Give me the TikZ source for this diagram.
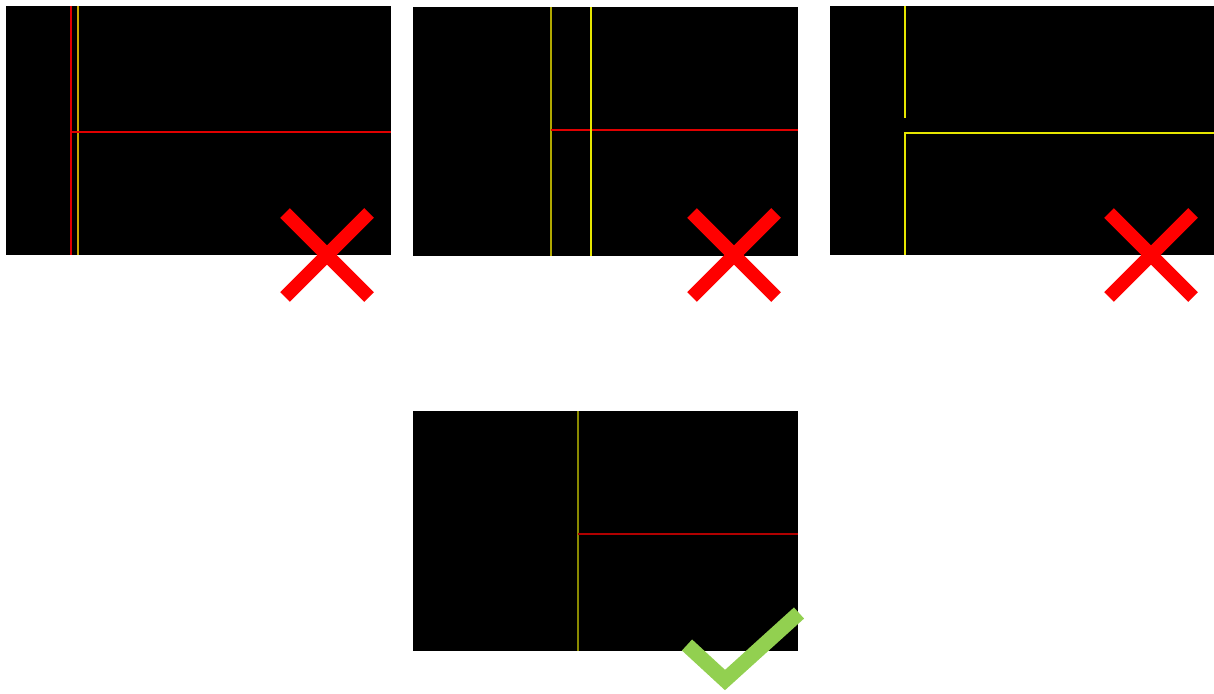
\documentclass[tikz,border=0pt]{standalone}
\begin{document}
\begin{tikzpicture}[x=1pt,y=-1pt,
  panel/.style={fill=black},
  seg/.style={line width=2pt},
  cross/.style={draw=red,line width=13.5pt},
  tick/.style={draw=tickgreen,line width=15pt,line join=miter}]
\definecolor{tickgreen}{HTML}{92D050}
\definecolor{ylw}{HTML}{E6E600}
\definecolor{ylwb}{HTML}{C8A800}
\definecolor{olv}{HTML}{B0A800}
\definecolor{olvd}{HTML}{8A8A00}
\definecolor{rd}{HTML}{E00000}
\definecolor{rdd}{HTML}{B00000}
\useasboundingbox[fill=white] (0,0) rectangle (1214,693);
% panel 1
\fill[panel] (6,6) rectangle (391,255);
\draw[seg,draw=rd] (71,6) -- (71,255);
\draw[seg,draw=ylwb] (77.5,6) -- (77.5,255);
\draw[seg,draw=rd] (71,132) -- (391,132);
% panel 2
\fill[panel] (413,7) rectangle (798,256);
\draw[seg,draw=olv] (551,7) -- (551,256);
\draw[seg,draw=rd] (551,130) -- (798,130);
\draw[seg,draw=ylw] (591,7) -- (591,256);
% panel 3
\fill[panel] (830,6) rectangle (1214,255);
\draw[seg,draw=ylw] (905,6) -- (905,118);
\draw[seg,draw=ylw] (1214,132.5) -- (905,132.5) -- (905,255);
% panel 4
\fill[panel] (413,411) rectangle (798,651);
\draw[seg,draw=olvd] (578,411) -- (578,651);
\draw[seg,draw=rdd] (578,533.5) -- (798,533.5);
% crosses
\draw[cross] (285,213) -- (369,297);
\draw[cross] (369,213) -- (285,297);
\draw[cross] (692,213) -- (776,297);
\draw[cross] (776,213) -- (692,297);
\draw[cross] (1109,213) -- (1193,297);
\draw[cross] (1193,213) -- (1109,297);
% check
\draw[tick] (687,645) -- (725,680) -- (799,613);
\end{tikzpicture}
\end{document}
